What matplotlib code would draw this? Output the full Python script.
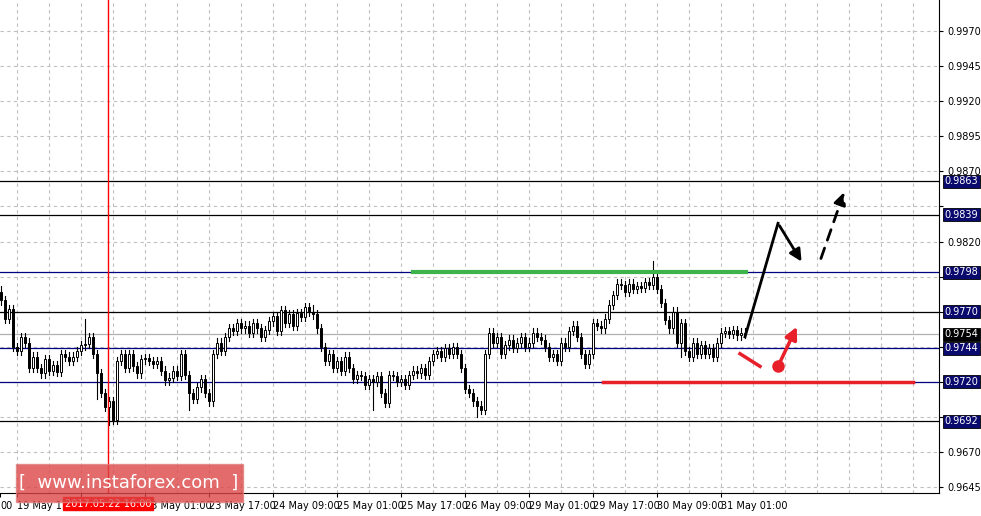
import matplotlib
matplotlib.use("Agg")
import matplotlib.pyplot as plt
from matplotlib.patches import Rectangle, FancyBboxPatch

# hourly closes, one bar per 4 px
closes = [
    0.9778, 0.9765, 0.9772, 0.9745, 0.9742, 0.9752, 0.9748, 0.9730, 0.9738, 0.9730, 0.9726, 0.9736, 0.9728,
    0.9732, 0.9727, 0.9740, 0.9738, 0.9735, 0.9738, 0.9742, 0.9746, 0.9747, 0.9752, 0.9740, 0.9726,
    0.9712, 0.9702, 0.9706, 0.9693, 0.9735, 0.9740, 0.9730, 0.9740, 0.9731, 0.9726, 0.9736, 0.9737, 0.9735,
    0.9733, 0.9735, 0.9728, 0.9721, 0.9723, 0.9728, 0.9724, 0.9740, 0.9725, 0.9712, 0.9708, 0.9716,
    0.9722, 0.9712, 0.9706, 0.9740, 0.9748, 0.9742, 0.9752, 0.9758, 0.9756, 0.9762, 0.9758, 0.9760, 0.9755,
    0.9762, 0.9758, 0.9752, 0.9757, 0.9763, 0.9767, 0.9756, 0.9771, 0.9762, 0.9768, 0.9760, 0.9769,
    0.9766, 0.9773, 0.9770, 0.9768, 0.9758, 0.9745, 0.9735, 0.9740, 0.9730, 0.9735, 0.9728, 0.9738, 0.9730,
    0.9722, 0.9725, 0.9724, 0.9718, 0.9722, 0.9720, 0.9724, 0.9712, 0.9705, 0.9725, 0.9724, 0.9720,
    0.9722, 0.9718, 0.9725, 0.9728, 0.9726, 0.9730, 0.9725, 0.9735, 0.9740, 0.9742, 0.9738, 0.9744, 0.9740,
    0.9745, 0.9740, 0.9730, 0.9715, 0.9712, 0.9706, 0.9703, 0.9700, 0.9740, 0.9755, 0.9748, 0.9752,
    0.9740, 0.9746, 0.9750, 0.9744, 0.9748, 0.9752, 0.9745, 0.9748, 0.9755, 0.9752, 0.9750, 0.9745, 0.9738,
    0.9740, 0.9735, 0.9748, 0.9745, 0.9756, 0.9760, 0.9752, 0.9740, 0.9733, 0.9740, 0.9762, 0.9760,
    0.9758, 0.9765, 0.9775, 0.9782, 0.9790, 0.9789, 0.9784, 0.9790, 0.9786, 0.9788, 0.9787, 0.9791, 0.9789,
    0.9795, 0.9786, 0.9776, 0.9764, 0.9758, 0.9770, 0.9748, 0.9762, 0.9742, 0.9738, 0.9748, 0.9740,
    0.9746, 0.9740, 0.9744, 0.9738, 0.9748, 0.9755, 0.9756, 0.9754, 0.9757, 0.9753, 0.9755, 0.9754,
]
first_open = 0.9784
default_wick = 0.0003
# notable wick extremes: bar index -> (high, low)
spikes = {0: (0.9788, None), 21: (0.9765, None), 24: (None, 0.9708), 27: (None, 0.9689), 28: (None, 0.9690),
          47: (None, 0.9700), 78: (0.9775, None), 93: (None, 0.9700), 119: (None, 0.9695),
          163: (0.9806, None), 170: (None, 0.9738), 172: (None, 0.9735)}

price_ticks = [0.9970, 0.9945, 0.9920, 0.9895, 0.9870, 0.9845, 0.9820, 0.9795, 0.9770,
               0.9745, 0.9720, 0.9695, 0.9670, 0.9645]
levels = [0.9863, 0.9839, 0.9798, 0.9770, 0.9744, 0.9720, 0.9692]
level_colors = ["black", "black", "navy", "black", "navy", "navy", "black"]
current_price = 0.9754
# 22 May 09:00 sits under the cursor date box, so it is left blank
time_labels = ["19 May 17:00", "", "23 May 01:00", "23 May 17:00", "24 May 09:00",
               "25 May 01:00", "25 May 17:00", "26 May 09:00", "29 May 01:00", "29 May 17:00",
               "30 May 09:00", "31 May 01:00"]
label_bar0 = 4   # bar index of first time label (16 bars apart)
cursor_bar = 26.75
cursor_label = "2017.05.22 16:00"

fig = plt.figure(figsize=(9.81, 5.16), dpi=100)
ax = fig.add_axes([0, 23 / 516, 939 / 981, 493 / 516])
ax.set_xlim(-0.25, 234.5)
ax.set_ylim(0.96407, 0.99922)

for p in price_ticks:
    ax.axhline(p, color="#c0c0c0", ls=(0, (3, 3)), lw=0.8, zorder=0)
for k in range(0, 30):
    ax.axvline(label_bar0 + 8 * k, color="#c0c0c0", ls=(0, (3, 3)), lw=0.8, zorder=0)

for lv, c in zip(levels, level_colors):
    ax.axhline(lv, color=c, lw=0.9, zorder=1)
ax.axhline(current_price, color="#b0b0b0", lw=0.9, zorder=1)

prev = first_open
for i, c in enumerate(closes):
    o = prev
    hi = max(o, c) + default_wick
    lo = min(o, c) - default_wick
    if i in spikes:
        h2, l2 = spikes[i]
        hi = h2 if h2 else hi
        lo = l2 if l2 else lo
    ax.plot([i, i], [lo, hi], color="black", lw=0.8, zorder=3)
    bottom = min(o, c)
    height = max(abs(c - o), 0.00004)
    ax.add_patch(Rectangle((i - 0.35, bottom), 0.7, height, facecolor="white" if c >= o else "black",
                           edgecolor="black", lw=0.7, zorder=4))
    prev = c

ax.axvline(cursor_bar, color="red", lw=1, zorder=5)

# drawn scenario
ax.plot([103, 186.25], [0.9798, 0.9798], color="#3cb44b", lw=3, zorder=6)
ax.plot([150.5, 228], [0.9720, 0.9720], color="#e8202a", lw=2.5, zorder=6)
ax.plot([186, 194.25], [0.9752, 0.9833], color="black", lw=2, zorder=7)
ax.annotate("", xy=(200.5, 0.9804), xytext=(194.25, 0.9833),
            arrowprops=dict(arrowstyle="-|>", color="black", lw=2, mutation_scale=18), zorder=7)
ax.annotate("", xy=(211, 0.9857), xytext=(204.75, 0.9806),
            arrowprops=dict(arrowstyle="-|>", color="black", lw=2, ls=(0, (4, 3)), mutation_scale=18), zorder=7)
ax.plot([184.75, 189.75], [0.9740, 0.9731], color="#e8202a", lw=2.5, zorder=7)
ax.plot([194.25], [0.9731], "o", color="#e8202a", ms=8, zorder=7)
ax.annotate("", xy=(199.25, 0.9761), xytext=(194.25, 0.9731),
            arrowprops=dict(arrowstyle="-|>", color="#e8202a", lw=2.5, mutation_scale=18), zorder=7)

# axes styling
for s in ["top", "left"]:
    ax.spines[s].set_visible(False)
ax.yaxis.tick_right()
ax.set_yticks(price_ticks)
# tick labels hidden where a level box sits on top of them
ax.set_yticklabels([f"{p:.4f}" if min(abs(p - lv) for lv in levels + [current_price]) > 0.0007 else ""
                    for p in price_ticks], fontsize=7)
ax.tick_params(axis="y", length=3, pad=3)
ax.set_xticks([-0.25] + [label_bar0 + 16 * k for k in range(len(time_labels))])
ax.set_xticklabels(["00"] + time_labels, fontsize=7, ha="left")
ax.tick_params(axis="x", length=3, pad=3)

for lv in levels + [current_price]:
    fc = "black" if lv == current_price else "#0a0a6e"
    ax.text(1.006, lv, f"{lv:.4f}", transform=ax.get_yaxis_transform(), fontsize=7, color="white",
            va="center", ha="left", zorder=10,
            bbox=dict(boxstyle="square,pad=0.15", fc=fc, ec="black", lw=0.6), clip_on=False)

ax.text(cursor_bar, -0.012, cursor_label, transform=ax.get_xaxis_transform(), fontsize=7,
        color="white", ha="center", va="top", clip_on=False, zorder=10,
        bbox=dict(boxstyle="square,pad=0.15", fc="red", ec="red"))

fig.patches.append(FancyBboxPatch((16 / 981, 14 / 516), 227 / 981, 38 / 516, boxstyle="square,pad=0",
                                  transform=fig.transFigure, fc="#dc4646", ec="#e08080", alpha=0.8, zorder=20))
fig.text(129 / 981, 33 / 516, "[  www.instaforex.com  ]", color="white", fontsize=13,
         ha="center", va="center", zorder=21)

fig.savefig("out.png", dpi=100)
